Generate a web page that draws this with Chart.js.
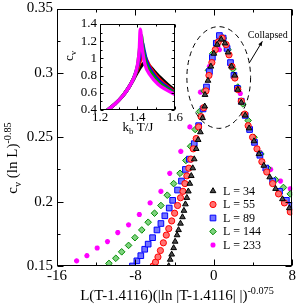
<!DOCTYPE html>
<html>
<head>
<meta charset="utf-8">
<script src="https://cdn.jsdelivr.net/npm/chart.js@4.4.0/dist/chart.umd.min.js"></script>
<style>
  html, body { margin: 0; padding: 0; background: #fff; }
  #wrap { position: relative; width: 302px; height: 304px; }
  #main { position: absolute; left: 0; top: 0; }
  #inset { position: absolute; left: 62px; top: 12px; }
</style>
</head>
<body>
<div id="wrap">
  <canvas id="main" width="302" height="304"></canvas>
  <canvas id="inset" width="125" height="126"></canvas>
</div>
<script>
// ---- data ----
const seriesLabels = ["L = 34", "L = 55", "L = 89", "L = 144", "L = 233"];

// main panel: scaled x, c_v (ln L)^-0.85
const main34 = [[-4.6,0.150],[-4.45,0.155],[-4.3,0.159],[-4.1,0.164],[-3.95,0.169],[-3.75,0.174],[-3.6,0.178],[-3.4,0.183],[-3.2,0.188],[-3.05,0.193],[-2.9,0.198],[-2.75,0.203],[-2.6,0.208],[-2.45,0.214],[-2.3,0.220],[-2.15,0.226],[-2.0,0.233],[-1.8,0.241],[-1.6,0.248],[-1.37,0.254],[-1.15,0.265],[-0.93,0.274],[-0.9,0.283],[-0.6,0.294],[-0.3,0.305],[0.0,0.315],[0.35,0.322],[0.75,0.326],[1.13,0.323],[1.45,0.316],[1.8,0.305],[2.13,0.298],[2.45,0.287],[2.8,0.277],[3.2,0.267],[3.6,0.257],[4.1,0.247],[4.6,0.237],[5.1,0.228],[5.7,0.219],[6.3,0.210],[7.0,0.202],[7.7,0.195]];
const main55 = [[-6.2,0.150],[-5.95,0.153],[-5.7,0.157],[-5.45,0.162],[-5.15,0.168],[-4.85,0.174],[-4.6,0.179],[-4.3,0.185],[-4.0,0.191],[-3.7,0.197],[-3.4,0.203],[-3.15,0.208],[-2.95,0.214],[-2.75,0.220],[-2.55,0.226],[-2.35,0.233],[-2.1,0.241],[-1.8,0.249],[-1.55,0.258],[-1.3,0.266],[-1.03,0.273],[-0.8,0.286],[-0.5,0.298],[-0.2,0.308],[0.15,0.318],[0.45,0.324],[0.85,0.327],[1.25,0.322],[1.55,0.314],[1.85,0.305],[2.15,0.296],[2.45,0.287],[2.8,0.278],[3.15,0.268],[3.5,0.259],[3.95,0.250],[4.4,0.241],[4.9,0.231],[5.4,0.223],[6.0,0.214],[6.6,0.206],[7.2,0.199],[7.8,0.192]];
const main89 = [[-8.3,0.150],[-7.85,0.154],[-7.45,0.158],[-7.05,0.163],[-6.7,0.167],[-6.25,0.172],[-5.8,0.178],[-5.4,0.183],[-5.0,0.189],[-4.55,0.195],[-4.2,0.201],[-3.7,0.209],[-3.3,0.216],[-2.9,0.225],[-2.5,0.233],[-2.0,0.245],[-1.55,0.259],[-1.1,0.272],[-0.75,0.289],[-0.45,0.301],[-0.15,0.312],[0.25,0.323],[0.57,0.329],[0.95,0.327],[1.35,0.319],[1.7,0.308],[2.05,0.298],[2.4,0.288],[2.8,0.278],[3.2,0.267],[3.65,0.256],[4.15,0.246],[4.7,0.236],[5.3,0.226],[6.0,0.216],[6.7,0.208],[7.4,0.201],[7.97,0.197]];
const main144 = [[-10.7,0.152],[-10.0,0.156],[-9.4,0.161],[-8.7,0.166],[-8.05,0.172],[-7.35,0.178],[-6.7,0.184],[-6.05,0.191],[-5.4,0.197],[-4.75,0.205],[-4.1,0.214],[-3.45,0.222],[-2.85,0.232],[-2.37,0.243],[-1.9,0.256],[-1.45,0.270],[-1.0,0.286],[-0.55,0.302],[-0.1,0.315],[0.35,0.324],[0.97,0.327],[1.45,0.318],[1.95,0.303],[2.45,0.289],[2.95,0.276],[3.5,0.263],[4.1,0.250],[4.8,0.237],[5.5,0.226],[6.3,0.217],[7.1,0.211],[7.8,0.206]];
const main233 = [[-14.0,0.154],[-12.95,0.158],[-11.9,0.164],[-10.85,0.169],[-9.8,0.176],[-8.7,0.182],[-7.6,0.190],[-6.5,0.199],[-5.4,0.208],[-4.5,0.222],[-3.37,0.239],[-2.45,0.258],[-1.37,0.285],[-0.45,0.305],[0.57,0.318],[1.67,0.307],[2.7,0.284],[3.73,0.257],[4.75,0.238],[5.8,0.225],[6.8,0.216],[7.8,0.210]];

// inset: k_b T / J, c_v
const inset34 = [[1.24,0.40],[1.28,0.47],[1.32,0.56],[1.35,0.65],[1.38,0.76],[1.40,0.84],[1.42,0.91],[1.44,0.95],[1.46,0.92],[1.49,0.85],[1.52,0.78],[1.56,0.70],[1.60,0.63]];
const inset55 = [[1.24,0.40],[1.28,0.47],[1.32,0.56],[1.35,0.65],[1.38,0.77],[1.40,0.87],[1.415,0.97],[1.43,1.06],[1.445,1.00],[1.47,0.89],[1.50,0.80],[1.54,0.71],[1.60,0.61]];
const inset89 = [[1.24,0.40],[1.28,0.47],[1.32,0.56],[1.35,0.65],[1.38,0.77],[1.40,0.90],[1.415,1.05],[1.425,1.19],[1.435,1.10],[1.45,0.96],[1.48,0.83],[1.52,0.73],[1.56,0.66],[1.60,0.60]];
const inset144 = [[1.24,0.40],[1.28,0.47],[1.32,0.56],[1.35,0.65],[1.38,0.77],[1.40,0.91],[1.41,1.08],[1.42,1.27],[1.43,1.12],[1.445,0.95],[1.47,0.84],[1.51,0.73],[1.55,0.66],[1.60,0.60]];
const inset233 = [[1.24,0.40],[1.28,0.47],[1.32,0.56],[1.35,0.65],[1.38,0.77],[1.40,0.92],[1.41,1.10],[1.415,1.34],[1.425,1.13],[1.44,0.93],[1.47,0.80],[1.51,0.70],[1.55,0.64],[1.60,0.58]];

// tick labels
const mainXTicks = [-16, -8, 0, 8];
const mainXMinor = [-12, -4, 4];
const mainYTicks = [0.15, 0.2, 0.25, 0.3, 0.35];
const mainYMinor = [0.175, 0.225, 0.275, 0.325];
const insetXTicks = [1.2, 1.4, 1.6];
const insetXMinor = [1.3, 1.5];
const insetYTicks = [0.4, 0.6, 0.8, 1, 1.2, 1.4];
const insetYMinor = [0.5, 0.7, 0.9, 1.1, 1.3];

// ---- styles ----
const serif = "'Liberation Serif', 'DejaVu Serif', serif";
const marks = [
  { shape: 'triangle', fill: '#4a4a4a', line: '#000000', r: 3.3, color: '#000000' },
  { shape: 'circle',   fill: '#ff7373', line: '#ff0000', r: 3.1, color: '#ff0000' },
  { shape: 'rect',     fill: '#7373ff', line: '#0000ff', r: 4.0, color: '#0000ff' },
  { shape: 'rectRot',  fill: '#7fd27f', line: '#008c00', r: 3.3, color: '#00a000' },
  { shape: 'star',     fill: '#ff00ff', line: '#ff00ff', r: 2.6, color: '#ff00ff' }
];

const mainSets = [main34, main55, main89, main144, main233];
const insetSets = [inset34, inset55, inset89, inset144, inset233];

const toPts = arr => arr.map(p => ({ x: p[0], y: p[1] }));
const fmt = v => String(+Number(v).toFixed(3));

function drawFrame(chart, xMaj, xMin, yMaj, yMin, lenMaj, lenMin) {
  const { ctx, chartArea: a, scales } = chart;
  const L = Math.round(a.left) + 0.5, R = Math.round(a.right) - 0.5;
  const T = Math.round(a.top) + 0.5, B = Math.round(a.bottom) - 0.5;
  ctx.save();
  ctx.strokeStyle = '#000';
  ctx.lineWidth = 1;
  ctx.strokeRect(L, T, R - L, B - T);
  ctx.beginPath();
  const xt = (vals, len) => vals.forEach(v => {
    const px = Math.round(scales.x.getPixelForValue(v)) + 0.5;
    ctx.moveTo(px, B); ctx.lineTo(px, B - len);
    ctx.moveTo(px, T); ctx.lineTo(px, T + len);
  });
  const yt = (vals, len) => vals.forEach(v => {
    const py = Math.round(scales.y.getPixelForValue(v)) + 0.5;
    ctx.moveTo(L, py); ctx.lineTo(L + len, py);
    ctx.moveTo(R, py); ctx.lineTo(R - len, py);
  });
  xt(xMaj, lenMaj); xt(xMin, lenMin);
  yt(yMaj, lenMaj); yt(yMin, lenMin);
  ctx.stroke();
  ctx.restore();
}

// text with sub/superscripts: parts = [[text, shift]] shift 0 normal, 1 sup, -1 sub
function richWidth(ctx, parts, size) {
  let w = 0;
  parts.forEach(p => {
    ctx.font = (p[1] ? size * 0.68 : size) + 'px ' + serif;
    w += ctx.measureText(p[0]).width;
  });
  return w;
}
function drawRich(ctx, parts, x, y, size) {
  let cx = x;
  parts.forEach(p => {
    ctx.font = (p[1] ? size * 0.68 : size) + 'px ' + serif;
    const dy = p[1] === 1 ? -size * 0.42 : (p[1] === -1 ? size * 0.25 : 0);
    ctx.fillText(p[0], cx, y + dy);
    cx += ctx.measureText(p[0]).width;
  });
}

function drawMark(ctx, m, x, y) {
  ctx.fillStyle = m.fill;
  ctx.strokeStyle = m.line;
  ctx.lineWidth = m.shape === 'star' ? 1.6 : 1;
  Chart.helpers.drawPoint(ctx, { pointStyle: m.shape, radius: m.r, rotation: 0, borderWidth: ctx.lineWidth }, x, y);
}

const mainDeco = {
  id: 'mainDeco',
  afterDraw(chart) {
    const { ctx, scales: { x, y } } = chart;
    drawFrame(chart, mainXTicks, mainXMinor, mainYTicks, mainYMinor, 6, 3);
    ctx.save();
    ctx.fillStyle = '#000';
    ctx.textBaseline = 'alphabetic';

    // x title
    const xt = [['L(T-1.4116)(|ln |T-1.4116| |)', 0], ['-0.075', 1]];
    const xw = richWidth(ctx, xt, 15);
    drawRich(ctx, xt, 177 - xw / 2, 300, 15);

    // y title
    const yt = [['c', 0], ['v', -1], [' (ln L)', 0], ['-0.85', 1]];
    const yw = richWidth(ctx, yt, 15);
    ctx.save();
    ctx.translate(17, 158);
    ctx.rotate(-Math.PI / 2);
    drawRich(ctx, yt, -yw / 2, 0, 15);
    ctx.restore();

    // legend
    const ly = [191, 204.5, 218, 231.5, 245];
    ctx.font = '12px ' + serif;
    ctx.textBaseline = 'middle';
    seriesLabels.forEach((lab, i) => {
      drawMark(ctx, marks[i], 213, ly[i]);
      ctx.fillStyle = '#000';
      ctx.fillText(lab, 223, ly[i] + 0.5);
    });

    // dashed ellipse round the collapsed peak
    const cx = x.getPixelForValue(0.5), cy = y.getPixelForValue(0.2964);
    const rx = Math.abs(x.getPixelForValue(3.75) - cx);
    const ry = Math.abs(y.getPixelForValue(0.2964 + 0.0395) - cy);
    ctx.strokeStyle = '#000';
    ctx.lineWidth = 1;
    ctx.setLineDash([5, 4]);
    ctx.beginPath();
    ctx.ellipse(cx, cy, rx, ry, 0, 0, Math.PI * 2);
    ctx.stroke();
    ctx.setLineDash([]);

    // label + arrow
    ctx.font = '10px ' + serif;
    ctx.textAlign = 'center';
    ctx.textBaseline = 'middle';
    ctx.fillText('Collapsed', x.getPixelForValue(5.5), y.getPixelForValue(0.3292));
    const ax0 = x.getPixelForValue(3.6), ay0 = y.getPixelForValue(0.3075);
    const ax1 = x.getPixelForValue(4.95), ay1 = y.getPixelForValue(0.3245);
    ctx.beginPath();
    ctx.moveTo(ax0, ay0); ctx.lineTo(ax1, ay1);
    ctx.stroke();
    const ang = Math.atan2(ay1 - ay0, ax1 - ax0);
    ctx.beginPath();
    ctx.moveTo(ax1, ay1);
    ctx.lineTo(ax1 - 5 * Math.cos(ang - 0.4), ay1 - 5 * Math.sin(ang - 0.4));
    ctx.lineTo(ax1 - 5 * Math.cos(ang + 0.4), ay1 - 5 * Math.sin(ang + 0.4));
    ctx.closePath();
    ctx.fill();
    ctx.restore();
  }
};

const insetDeco = {
  id: 'insetDeco',
  afterDraw(chart) {
    const { ctx } = chart;
    drawFrame(chart, insetXTicks, insetXMinor, insetYTicks, insetYMinor, 3, 2);
    ctx.save();
    ctx.fillStyle = '#000';
    ctx.textBaseline = 'alphabetic';
    const xt = [['k', 0], ['b', -1], [' T/J', 0]];
    const xw = richWidth(ctx, xt, 13);
    drawRich(ctx, xt, 76 - xw / 2, 119, 13);
    const yt = [['c', 0], ['v', -1]];
    const yw = richWidth(ctx, yt, 13);
    ctx.translate(11, 44);
    ctx.rotate(-Math.PI / 2);
    drawRich(ctx, yt, -yw / 2, 0, 13);
    ctx.restore();
  }
};

new Chart(document.getElementById('main'), {
  type: 'scatter',
  data: {
    datasets: mainSets.map((set, i) => ({
      label: seriesLabels[i],
      data: toPts(set),
      pointStyle: marks[i].shape,
      pointRadius: marks[i].r,
      backgroundColor: marks[i].fill,
      borderColor: marks[i].line,
      borderWidth: marks[i].shape === 'star' ? 1.6 : 1,
      showLine: false
    }))
  },
  options: {
    responsive: false,
    animation: false,
    layout: { padding: { left: 0, top: 5, right: 5, bottom: 0 } },
    plugins: { legend: { display: false }, tooltip: { enabled: false } },
    scales: {
      x: {
        type: 'linear', min: -16, max: 8,
        afterBuildTicks: s => { s.ticks = mainXTicks.map(v => ({ value: v })); },
        afterFit: s => { s.height = 38; },
        grid: { display: false, drawTicks: false },
        border: { display: false },
        ticks: { color: '#000', padding: 6, font: { family: serif, size: 15, lineHeight: 0.6 }, callback: v => fmt(v) }
      },
      y: {
        type: 'linear', min: 0.15, max: 0.35,
        afterBuildTicks: s => { s.ticks = mainYTicks.map(v => ({ value: v })); },
        afterFit: s => { s.width = 57; },
        grid: { display: false, drawTicks: false },
        border: { display: false },
        ticks: { color: '#000', padding: 4, font: { family: serif, size: 15, lineHeight: 0.6 }, callback: v => fmt(v) }
      }
    }
  },
  plugins: [mainDeco]
});

new Chart(document.getElementById('inset'), {
  type: 'scatter',
  data: {
    datasets: insetSets.map((set, i) => ({
      label: seriesLabels[i],
      data: toPts(set),
      showLine: true,
      cubicInterpolationMode: 'monotone',
      borderColor: marks[i].color,
      backgroundColor: marks[i].color,
      borderWidth: 3.4,
      pointRadius: 0,
      order: 4 - i
    }))
  },
  options: {
    responsive: false,
    animation: false,
    layout: { padding: { left: 0, top: 12, right: 10, bottom: 0 } },
    plugins: { legend: { display: false }, tooltip: { enabled: false } },
    scales: {
      x: {
        type: 'linear', min: 1.2, max: 1.6,
        afterBuildTicks: s => { s.ticks = insetXTicks.map(v => ({ value: v })); },
        afterFit: s => { s.height = 28; },
        grid: { display: false, drawTicks: false },
        border: { display: false },
        ticks: { color: '#000', padding: 4, font: { family: serif, size: 13, lineHeight: 0.6 }, callback: v => fmt(v) }
      },
      y: {
        type: 'linear', min: 0.4, max: 1.4,
        afterBuildTicks: s => { s.ticks = insetYTicks.map(v => ({ value: v })); },
        afterFit: s => { s.width = 38; },
        grid: { display: false, drawTicks: false },
        border: { display: false },
        ticks: { color: '#000', padding: 3, font: { family: serif, size: 13, lineHeight: 0.6 }, callback: v => fmt(v) }
      }
    }
  },
  plugins: [insetDeco]
});
</script>
</body>
</html>
